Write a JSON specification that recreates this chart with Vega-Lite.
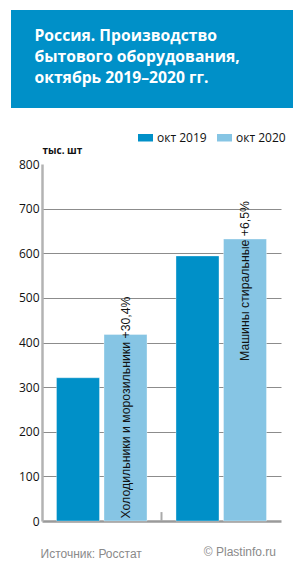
{
  "$schema": "https://vega.github.io/schema/vega-lite/v6.json",
  "background": "white",
  "padding": {"top": 10, "left": 11, "right": 0, "bottom": 0},
  "spacing": 22,
  "resolve": {"scale": {"color": "independent"}, "legend": {"color": "independent"}},
  "config": {"view": {"stroke": null}},
  "datasets": {
    "prod": [
      {"cat": "Холодильники и морозильники", "year": "2019", "value": 321},
      {"cat": "Холодильники и морозильники", "year": "2020", "value": 418, "label": "Холодильники и морозильники +30,4%"},
      {"cat": "Машины стиральные", "year": "2019", "value": 594},
      {"cat": "Машины стиральные", "year": "2020", "value": 632, "label": "Машины стиральные +6,5%"}
    ]
  },
  "vconcat": [
    {
      "width": 282,
      "height": 98,
      "view": {"fill": "#0090c8", "stroke": null},
      "data": {"values": [{"v": 0}]},
      "mark": {"type": "point", "opacity": 0},
      "encoding": {
        "x": {
          "field": "v",
          "type": "quantitative",
          "axis": {
            "orient": "top",
            "domain": false,
            "ticks": false,
            "labels": false,
            "grid": false,
            "title": ["Россия. Производство", "бытового оборудования,", "октябрь 2019–2020 гг."],
            "titleX": 23,
            "titleY": 18.5,
            "titleAlign": "left",
            "titleAnchor": "start",
            "titleBaseline": "top",
            "titleColor": "white",
            "titleFont": "Open Sans",
            "titleFontSize": 15.7,
            "titleFontWeight": "bold",
            "titleLineHeight": 21
          }
        }
      }
    },
    {
      "width": 270,
      "height": 357,
      "data": {"name": "prod"},
      "title": {
        "text": "© Plastinfo.ru",
        "orient": "bottom",
        "anchor": "end",
        "frame": "group",
        "offset": -12,
        "dx": -5,
        "color": "#8a8a8a",
        "font": "Liberation Sans",
        "fontSize": 12,
        "fontWeight": "normal"
      },
      "encoding": {
        "x": {
          "field": "cat",
          "type": "nominal",
          "sort": null,
          "scale": {"paddingInner": 0, "paddingOuter": 0, "range": [31, 270]},
          "axis": {
            "labels": false,
            "ticks": false,
            "domainColor": "#9a9a9a",
            "domainWidth": 2.5,
            "title": "Источник: Росстат",
            "titleX": 29,
            "titleY": 32,
            "titleAlign": "left",
            "titleBaseline": "middle",
            "titleColor": "#8a8a8a",
            "titleFont": "Liberation Sans",
            "titleFontSize": 12,
            "titleFontWeight": "normal"
          }
        },
        "y": {
          "field": "value",
          "type": "quantitative",
          "scale": {"domain": [0, 800], "nice": false},
          "axis": {
            "values": [0, 100, 200, 300, 400, 500, 600, 700, 800],
            "offset": -31,
            "ticks": false,
            "domainColor": "#b3b3b3",
            "domainWidth": 2.5,
            "gridColor": "#8c8c8c",
            "gridWidth": 1,
            "gridOpacity": {"condition": {"test": "datum.value >= 800 || datum.value <= 0", "value": 0}, "value": 1},
            "labelFont": "Open Sans",
            "labelFontSize": 12,
            "labelColor": "#111",
            "labelPadding": 3,
            "title": "тыс. шт",
            "titleAngle": 0,
            "titleX": 0,
            "titleY": -14,
            "titleAlign": "left",
            "titleBaseline": "middle",
            "titleFont": "Open Sans",
            "titleFontSize": 10,
            "titleFontWeight": "bold",
            "titleColor": "#111"
          }
        }
      },
      "layer": [
        {
          "mark": {"type": "bar", "stroke": "white", "strokeWidth": 1, "strokeOpacity": 0.35},
          "encoding": {
            "xOffset": {"field": "year", "type": "nominal", "scale": {"paddingInner": 0.095, "paddingOuter": 0.305}},
            "color": {
              "field": "year",
              "type": "nominal",
              "scale": {"domain": ["2019", "2020"], "range": ["#0090c8", "#86c5e4"]},
              "legend": {
                "title": null,
                "orient": "none",
                "direction": "horizontal",
                "legendX": 127,
                "legendY": -34,
                "symbolType": "M-1,-0.5H1V0.5H-1Z",
                "symbolSize": 225,
                "symbolStrokeWidth": 0,
                "labelExpr": "'окт ' + datum.label",
                "labelFont": "Open Sans",
                "labelFontSize": 12,
                "labelColor": "#111",
                "labelOffset": 4,
                "columnPadding": 10
              }
            }
          }
        },
        {
          "transform": [{"filter": "datum.label"}],
          "mark": {"type": "text", "angle": 270, "align": "right", "baseline": "middle", "dx": 38, "font": "Liberation Sans", "fontSize": 12.3, "color": "#111"},
          "encoding": {
            "xOffset": {"field": "year", "type": "nominal", "scale": {"paddingInner": 0.095, "paddingOuter": 0.305}},
            "text": {"field": "label"}
          }
        },
        {
          "transform": [{"filter": "datum.year === '2019' && datum.cat === 'Холодильники и морозильники'"}],
          "mark": {"type": "rule", "color": "#aaaaaa", "strokeWidth": 2},
          "encoding": {
            "x": {"field": "cat", "type": "nominal", "sort": null, "bandPosition": 1},
            "y": {"datum": 0},
            "y2": {"datum": 20}
          }
        }
      ]
    }
  ]
}
